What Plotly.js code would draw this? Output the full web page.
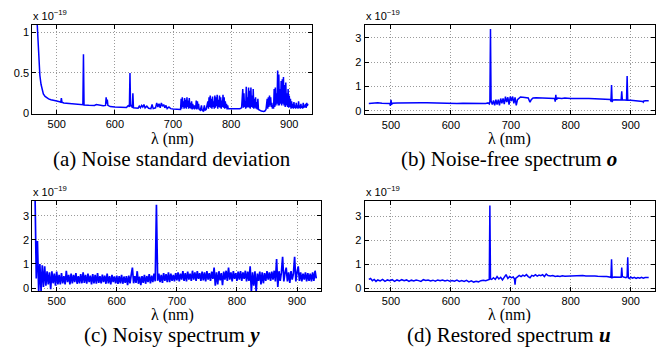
<!DOCTYPE html>
<html><head><meta charset="utf-8">
<script src="https://cdn.plot.ly/plotly-3.0.1.min.js"></script>
<style>html,body{margin:0;padding:0;background:#fff;}#chart{width:665px;height:352px;}</style>
</head><body><div id="chart"></div>
<script>
// (a) Noise standard deviation  (x 1e-19)
const lambdaA = [465,467,469,470,471,473,475,477,480,483,486,490,495,500,505,507,508,509,512,520,530,540,545,546,547,555,565,568,572,580,584,585,586,587,588,592,600,610,620,622,624,625,626,627,629,630,631,632,636,640,642,644,646,648,650,652,655,658,662,664,666,670,672,674,676,678,680,682,684,686,688,690,693,696,700,705,710,713,
714,715,716,717,718,719,720,721,722,723,724,725,726,727,728,729,730,731,732,733,734,735,736,737,738,739,740,741,742,743,744,745,747,749,750,752,754,755,757,
760,761,762,763,764,765,766,767,768,769,770,771,772,773,774,775,776,777,778,779,780,781,782,783,784,785,786,787,788,789,790,791,792,793,794,795,797,800,805,810,815,818,
820,821,822,823,824,825,826,827,828,829,830,831,832,833,834,835,836,837,838,839,840,841,842,843,844,845,846,847,849,852,856,858,860,
862,863,864,865,866,867,868,869,870,871,872,873,874,875,876,877,878,879,880,881,882,883,884,885,886,887,888,889,890,891,892,893,894,895,896,897,898,899,900,901,902,903,904,905,906,907,908,909,910,911,912,913,914,915,916,917,918,919,920,921,922,923,924,925,926,927,928,929,930,931,932];
const sigmaA = [1.3,1.0,0.72,0.6,0.47,0.36,0.29,0.24,0.21,0.19,0.18,0.17,0.165,0.155,0.145,0.14,0.19,0.14,0.13,0.125,0.12,0.112,0.108,0.73,0.105,0.102,0.1,0.11,0.105,0.095,0.1,0.2,0.12,0.17,0.1,0.085,0.08,0.075,0.075,0.09,0.1,0.08,0.5,0.09,0.1,0.07,0.25,0.07,0.07,0.065,0.09,0.07,0.1,0.08,0.11,0.07,0.09,0.065,0.06,0.11,0.06,0.07,0.13,0.08,0.12,0.07,0.13,0.09,0.11,0.07,0.1,0.06,0.08,0.06,0.055,0.05,0.045,0.05,
0.18,0.06,0.2,0.08,0.15,0.06,0.19,0.07,0.17,0.06,0.2,0.08,0.16,0.06,0.19,0.07,0.13,0.06,0.15,0.05,0.12,0.06,0.1,0.05,0.1,0.06,0.16,0.05,0.15,0.06,0.12,0.05,0.04,0.1,0.04,0.03,0.1,0.04,0.05,
0.15,0.06,0.2,0.08,0.22,0.07,0.18,0.06,0.21,0.08,0.15,0.06,0.22,0.07,0.2,0.09,0.23,0.06,0.17,0.08,0.22,0.07,0.2,0.06,0.16,0.08,0.23,0.07,0.2,0.06,0.15,0.07,0.12,0.05,0.1,0.06,0.06,0.06,0.065,0.06,0.06,0.07,
0.3,0.07,0.25,0.08,0.15,0.06,0.33,0.07,0.2,0.08,0.32,0.07,0.28,0.06,0.32,0.08,0.22,0.07,0.3,0.06,0.18,0.07,0.2,0.06,0.14,0.05,0.18,0.05,0.04,0.03,0.025,0.03,0.05,
0.18,0.06,0.2,0.08,0.22,0.1,0.2,0.08,0.13,0.06,0.1,0.06,0.3,0.08,0.32,0.1,0.25,0.12,0.53,0.1,0.48,0.1,0.3,0.12,0.4,0.1,0.42,0.12,0.45,0.1,0.35,0.08,0.38,0.1,0.25,0.08,0.3,0.07,0.22,0.08,0.18,0.06,0.15,0.07,0.12,0.06,0.14,0.07,0.1,0.06,0.13,0.07,0.1,0.06,0.15,0.07,0.1,0.06,0.12,0.07,0.09,0.06,0.13,0.07,0.1,0.08,0.12,0.07,0.13,0.09,0.12];

// (b) Noise-free spectrum o
const lambdaB = [463,470,478,485,490,495,498,499,500,501,502,510,520,530,540,550,560,570,580,590,600,610,620,630,640,650,658,662,664,665,666,667,668,669,671,673,675,677,679,681,683,685,687,689,691,693,695,697,699,701,703,705,707,709,711,713,716,720,725,729,731,732,734,737,742,750,755,760,765,770,773,774,775,776,778,785,790,800,810,820,830,840,850,860,866,867,868,869,870,875,880,884,885,886,890,893,894,895,900,905,910,915,920,921,922,925,930];
const spectrumO = [0.3,0.32,0.33,0.31,0.3,0.31,0.3,0.2,0.45,0.25,0.31,0.32,0.33,0.33,0.32,0.33,0.33,0.32,0.33,0.32,0.31,0.3,0.31,0.3,0.3,0.29,0.3,0.32,0.28,0.35,3.35,0.4,0.3,0.25,0.42,0.22,0.45,0.25,0.45,0.22,0.5,0.3,0.5,0.27,0.58,0.35,0.55,0.25,0.58,0.4,0.58,0.3,0.55,0.22,0.45,0.5,0.56,0.55,0.55,0.52,0.4,0.35,0.45,0.52,0.53,0.52,0.53,0.52,0.5,0.52,0.5,0.37,0.65,0.45,0.52,0.5,0.52,0.5,0.51,0.5,0.5,0.49,0.49,0.48,0.46,0.38,1.05,0.35,0.44,0.45,0.45,0.44,0.8,0.44,0.44,0.43,1.42,0.43,0.43,0.42,0.42,0.41,0.38,0.35,0.4,0.41,0.41];

// (c) Noisy spectrum y, sampled every 2 nm from 464 nm
const lambdaStartY = 464, lambdaStepY = 2;
const spectrumY = [3.8,0.4,1.95,-0.15,1.0,-0.12,0.95,0.05,0.9,0.1,
0.7,0.15,0.65,-0.05,0.7,0.2,0.6,0.1,0.68,0.15,
0.55,0.15,0.62,0.2,0.5,0.15,0.72,0.25,0.55,0.15,
0.6,0.2,0.55,0.25,0.62,0.18,0.5,0.2,0.58,0.2,
0.65,0.22,0.55,0.18,0.6,0.25,0.52,0.15,0.58,0.2,
0.55,0.18,0.62,0.22,0.5,0.2,0.56,0.25,0.52,0.18,
0.6,0.2,0.5,0.15,0.55,0.25,0.48,0.2,0.52,0.18,
0.5,0.2,0.55,0.18,0.48,0.22,0.5,0.12,0.52,0.2,
0.55,0.85,0.2,0.5,0.22,0.7,0.18,0.48,0.12,0.5,
0.22,0.55,0.18,0.5,0.25,0.58,0.2,0.52,0.25,0.6,
0.28,3.45,0.3,0.6,0.25,0.55,0.22,0.62,0.3,0.58,
0.25,0.65,0.25,0.6,0.3,0.55,0.28,0.62,0.32,0.65,
0.28,0.6,0.35,0.7,0.3,0.62,0.28,0.68,0.35,0.6,
0.3,0.72,0.35,0.65,0.3,0.7,0.38,0.62,0.3,0.68,
0.32,0.65,0.28,0.7,0.35,0.62,0.3,0.68,0.38,0.85,
0.1,0.65,0.15,0.7,0.32,0.62,0.12,0.68,0.35,0.72,
0.3,0.85,0.35,0.65,0.28,0.7,0.38,0.62,0.3,0.68,
0.35,0.7,0.3,0.65,0.38,0.72,0.28,0.68,0.3,0.9,
-0.15,0.65,0.1,0.7,-0.15,0.6,0.3,0.68,0.15,0.65,
0.2,0.62,0.3,0.7,0.35,0.65,0.3,0.68,0.35,0.72,
0.28,1.2,0.05,0.7,0.3,0.65,1.3,0.28,0.62,0.85,
0.28,0.65,0.22,0.7,0.35,0.6,1.3,0.28,0.65,0.9,
0.3,0.65,0.28,0.6,0.35,0.65,0.28,0.62,0.3,0.6,
0.28,0.65,0.3,0.72,0.4];

// (d) Restored spectrum u
const lambdaD = [463,466,469,472,475,478,482,486,490,494,498,502,506,510,514,518,522,526,530,534,538,542,546,550,554,558,562,566,570,574,578,582,586,590,594,598,602,606,610,614,618,622,626,630,634,638,642,646,650,654,658,661,663,664,665,666,668,671,674,677,680,683,686,689,692,695,698,701,704,706,707,708,711,714,717,720,723,726,729,732,735,738,741,744,747,750,753,756,759,762,766,770,774,778,782,786,790,795,800,805,810,815,820,825,830,835,840,845,850,855,860,865,867,868,869,872,876,880,884,885,886,888,892,894,895,896,898,900,903,906,909,912,915,918,921,924,927,930];
const spectrumU = [0.38,0.42,0.33,0.38,0.3,0.36,0.32,0.38,0.3,0.36,0.33,0.37,0.3,0.36,0.32,0.37,0.33,0.36,0.3,0.35,0.32,0.36,0.33,0.3,0.37,0.34,0.36,0.32,0.35,0.31,0.36,0.33,0.36,0.32,0.35,0.31,0.34,0.31,0.35,0.3,0.33,0.3,0.34,0.28,0.32,0.27,0.3,0.28,0.33,0.35,0.33,0.36,0.35,0.38,3.45,0.4,0.38,0.45,0.38,0.5,0.4,0.47,0.36,0.5,0.58,0.42,0.5,0.45,0.48,0.4,0.16,0.42,0.5,0.55,0.5,0.56,0.52,0.58,0.5,0.45,0.55,0.52,0.58,0.52,0.56,0.54,0.58,0.5,0.6,0.54,0.52,0.54,0.5,0.52,0.5,0.53,0.51,0.52,0.52,0.53,0.54,0.53,0.54,0.52,0.53,0.52,0.52,0.51,0.52,0.5,0.5,0.5,0.47,1.22,0.45,0.48,0.47,0.48,0.47,0.87,0.5,0.48,0.45,0.5,1.3,0.45,0.42,0.48,0.43,0.47,0.42,0.46,0.43,0.47,0.43,0.46,0.45,0.46];

const captions = ['(a) Noise standard deviation','(b) Noise-free spectrum <b><i>o</i></b>','(c) Noisy spectrum <b><i>y</i></b>','(d) Restored spectrum <b><i>u</i></b>'];
const xLabel = 'λ (nm)';
const scaleLabel = 'x 10<sup>−19</sup>';
const xTicks = [500,600,700,800,900];

const W = 665, H = 352;
const fx = p => p / W, fy = p => 1 - p / H;
const blue = '#0000ff';

const traces = [
  {x: lambdaA, y: sigmaA, xaxis: 'x', yaxis: 'y', type: 'scatter', mode: 'lines', line: {color: blue, width: 1.5}},
  {x: lambdaB, y: spectrumO, xaxis: 'x2', yaxis: 'y2', type: 'scatter', mode: 'lines', line: {color: blue, width: 1.5}},
  {x0: lambdaStartY, dx: lambdaStepY, y: spectrumY, xaxis: 'x3', yaxis: 'y3', type: 'scatter', mode: 'lines', line: {color: blue, width: 1.7}},
  {x: lambdaD, y: spectrumU, xaxis: 'x4', yaxis: 'y4', type: 'scatter', mode: 'lines', line: {color: blue, width: 1.5}}
];

const tickFont = {family: 'Liberation Sans, Arial, sans-serif', size: 11, color: '#000'};
const common = {ticks: 'inside', ticklen: 4, tickcolor: '#000', showline: true, linecolor: '#000', linewidth: 1, mirror: 'ticks',
  showgrid: true, gridcolor: '#9a9a9a', griddash: '1px,2px', gridwidth: 1, zeroline: false, tickfont: tickFont, fixedrange: true};
function xa(dom, range, anchor) {
  return Object.assign({domain: dom, range: range, anchor: anchor, tickvals: xTicks}, common);
}
function ya(dom, range, anchor, vals, texts) {
  return Object.assign({domain: dom, range: range, anchor: anchor, tickvals: vals, ticktext: texts}, common);
}

const boxes = [
  {l: 32.3, r: 312.3, t: 24.5, b: 113.5},
  {l: 364.5, r: 655, t: 24.5, b: 114.3},
  {l: 32.3, r: 320.7, t: 200.5, b: 291},
  {l: 364.5, r: 655, t: 200.5, b: 291}
];
const colCenter = [172, 509, 172, 509];

const layout = {
  width: W, height: H, margin: {l: 0, r: 0, t: 0, b: 0}, paper_bgcolor: '#fff', plot_bgcolor: '#fff', showlegend: false,
  xaxis: xa([fx(boxes[0].l), fx(boxes[0].r)], [458, 939.6], 'y'),
  yaxis: ya([fy(boxes[0].b), fy(boxes[0].t)], [0, 1.096], 'x', [0, 0.5, 1], ['0', '0.5', '1']),
  xaxis2: xa([fx(boxes[1].l), fx(boxes[1].r)], [455.8, 940.5], 'y2'),
  yaxis2: ya([fy(boxes[1].b), fy(boxes[1].t)], [-0.148, 3.54], 'x2', [0, 1, 2, 3], ['0', '1', '2', '3']),
  xaxis3: xa([fx(boxes[2].l), fx(boxes[2].r)], [459.4, 939.4], 'y3'),
  yaxis3: ya([fy(boxes[2].b), fy(boxes[2].t)], [-0.12, 3.63], 'x3', [0, 1, 2, 3], ['0', '1', '2', '3']),
  xaxis4: xa([fx(boxes[3].l), fx(boxes[3].r)], [455.8, 940.5], 'y4'),
  yaxis4: ya([fy(boxes[3].b), fy(boxes[3].t)], [-0.1, 3.66], 'x4', [0, 1, 2, 3], ['0', '1', '2', '3']),
  annotations: []
};

const serif = 'Liberation Serif, Times New Roman, serif';
boxes.forEach((bx, i) => {
  const rowTop = i < 2 ? 0 : 176;
  layout.annotations.push({xref: 'paper', yref: 'paper', x: fx(bx.l - 1), y: fy(bx.t - 1), xanchor: 'left', yanchor: 'bottom',
    text: scaleLabel, showarrow: false, font: {family: 'Liberation Sans, Arial, sans-serif', size: 11, color: '#000'}});
  layout.annotations.push({xref: 'paper', yref: 'paper', x: fx(colCenter[i]), y: fy(rowTop + 138.5), xanchor: 'center', yanchor: 'middle',
    text: xLabel, showarrow: false, font: {family: serif, size: 16, color: '#000'}});
  layout.annotations.push({xref: 'paper', yref: 'paper', x: fx(colCenter[i]), y: fy(rowTop + 159), xanchor: 'center', yanchor: 'middle',
    text: captions[i], showarrow: false, font: {family: serif, size: 21, color: '#000'}});
});

Plotly.newPlot('chart', traces, layout, {displayModeBar: false, staticPlot: true});
</script></body></html>
